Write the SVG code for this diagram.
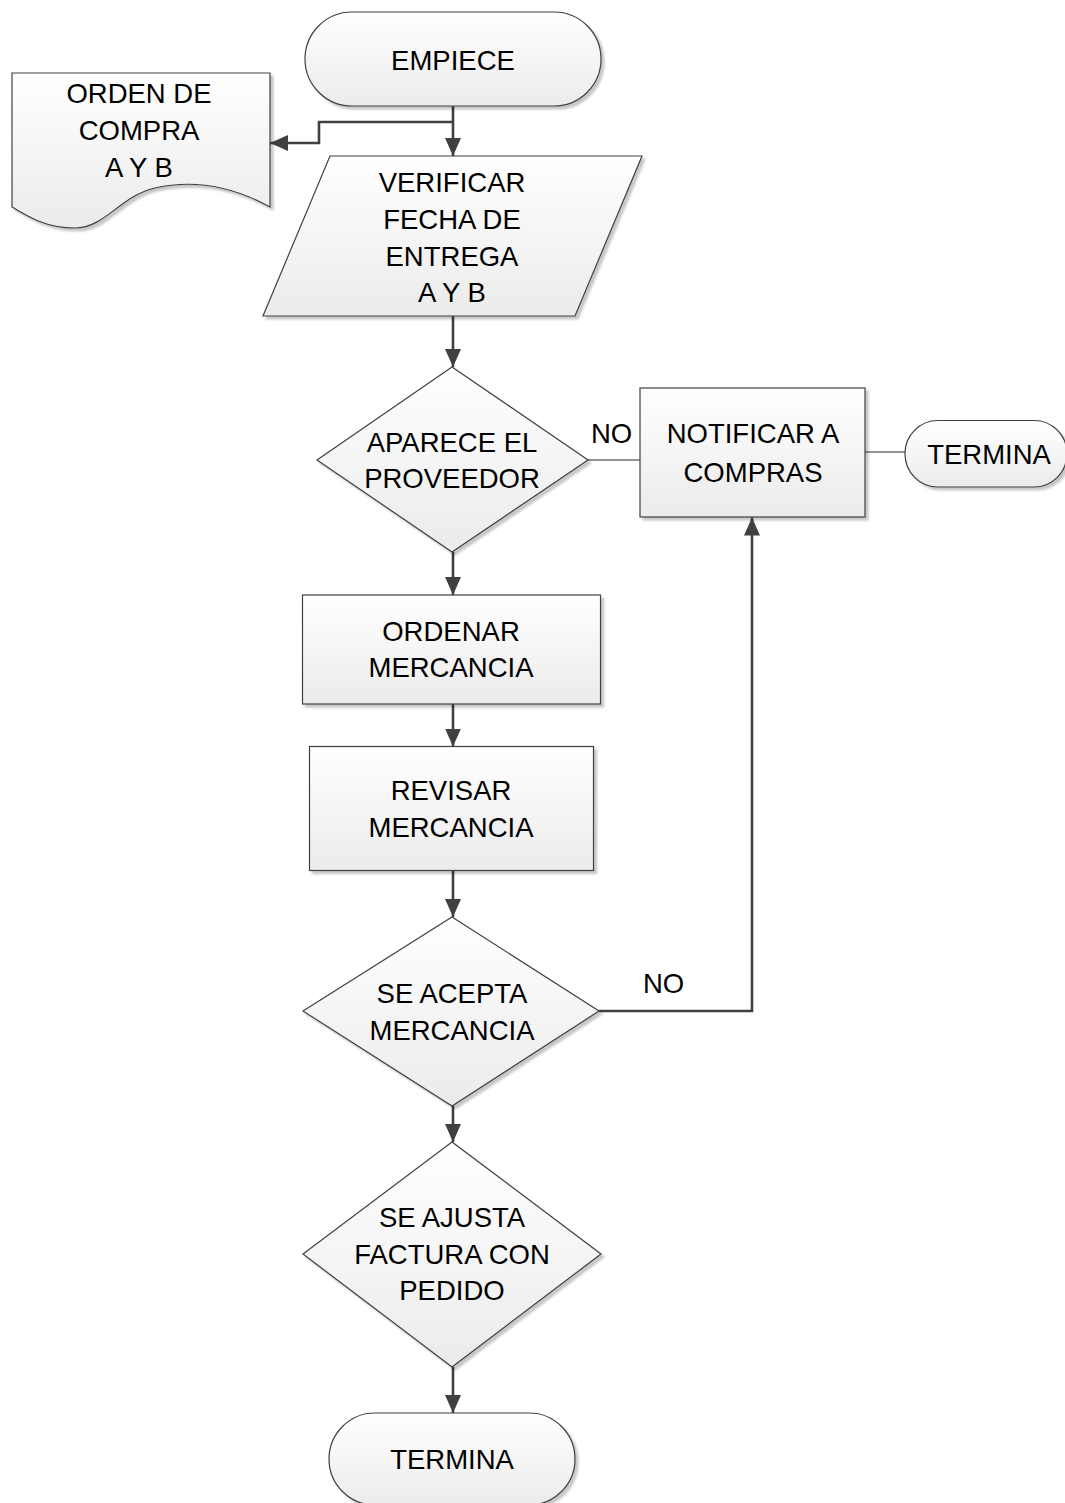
<svg xmlns="http://www.w3.org/2000/svg" width="1065" height="1503" viewBox="0 0 1065 1503">
<defs>
<linearGradient id="g" x1="0" y1="0" x2="0" y2="1">
<stop offset="0" stop-color="#ffffff"/>
<stop offset="1" stop-color="#ebebeb"/>
</linearGradient>
<filter id="sh" x="-10%" y="-10%" width="125%" height="125%">
<feDropShadow dx="3" dy="3" stdDeviation="1.2" flood-color="#000" flood-opacity="0.22"/>
</filter>
<marker id="ah" viewBox="0 0 18 16" markerWidth="18" markerHeight="16" refX="18" refY="8" orient="auto" markerUnits="userSpaceOnUse">
<path d="M0,0 L18,8 L0,16 Z" fill="#404040"/>
</marker>
<style>
.s{fill:url(#g);stroke:#404040;stroke-width:1.2;filter:url(#sh)}
.t{font-family:"Liberation Sans",Arial,sans-serif;font-size:27.5px;fill:#000;text-anchor:middle}
.l{font-family:"Liberation Sans",Arial,sans-serif;font-size:27.5px;fill:#000}
.c{fill:none;stroke:#404040;stroke-width:2.6}
.a{marker-end:url(#ah)}
.th{fill:none;stroke:#707070;stroke-width:1.6}
</style>
</defs>
<rect width="1065" height="1503" fill="#ffffff"/>

<g id="connectors">
<path class="c a" d="M453,106 V156"/>
<path class="c a" d="M453,122 H319 V143 H270"/>
<path class="c a" d="M453,316 V367"/>
<path class="th" d="M588,460 H640"/>
<path class="c a" d="M453,552 V595"/>
<path class="c a" d="M453,704 V746.5"/>
<path class="c a" d="M453,871 V917"/>
<path class="c a" d="M599,1011 H752 V517.5"/>
<path class="c a" d="M453,1106 V1142"/>
<path class="c a" d="M453,1367 V1413"/>
<path class="th" d="M865,452 H905"/>
</g>

<g id="n-empiece">
<rect class="s" x="305" y="12" width="296" height="94" rx="47"/>
<text class="t" x="453" y="70">EMPIECE</text>
</g>

<g id="n-orden">
<path class="s" d="M12,73 H270 V207 C230,185 190,180 155,188 C120,196 105,228 75,228 C45,228 25,215 12,207 Z"/>
<text class="t" x="139" y="103">ORDEN DE</text>
<text class="t" x="139" y="140">COMPRA</text>
<text class="t" x="139" y="177">A Y B</text>
</g>

<g id="n-verificar">
<path class="s" d="M330,156 H642 L575,316 H263 Z"/>
<text class="t" x="452" y="192">VERIFICAR</text>
<text class="t" x="452" y="229">FECHA DE</text>
<text class="t" x="452" y="266">ENTREGA</text>
<text class="t" x="452" y="302">A Y B</text>
</g>

<g id="n-aparece">
<path class="s" d="M452,367 L588,460 L452,552 L317,460 Z"/>
<text class="t" x="452" y="452">APARECE EL</text>
<text class="t" x="452" y="488">PROVEEDOR</text>
</g>

<g id="n-notificar">
<rect class="s" x="640" y="388" width="225" height="129"/>
<text class="t" x="753" y="443">NOTIFICAR A</text>
<text class="t" x="753" y="482">COMPRAS</text>
</g>

<g id="n-termina1">
<rect class="s" x="905" y="420.5" width="162" height="66.5" rx="33"/>
<text class="t" x="989" y="464">TERMINA</text>
</g>

<g id="n-ordenar">
<rect class="s" x="302.5" y="595" width="298" height="109"/>
<text class="t" x="451" y="641">ORDENAR</text>
<text class="t" x="451" y="677">MERCANCIA</text>
</g>

<g id="n-revisar">
<rect class="s" x="309.5" y="746.5" width="284" height="124"/>
<text class="t" x="451" y="800">REVISAR</text>
<text class="t" x="451" y="837">MERCANCIA</text>
</g>

<g id="n-acepta">
<path class="s" d="M452,917 L599,1011 L452,1106 L303,1011 Z"/>
<text class="t" x="452" y="1003">SE ACEPTA</text>
<text class="t" x="452" y="1040">MERCANCIA</text>
</g>

<g id="n-ajusta">
<path class="s" d="M452,1142 L601,1254 L452,1367 L303,1254 Z"/>
<text class="t" x="452" y="1227">SE AJUSTA</text>
<text class="t" x="452" y="1264">FACTURA CON</text>
<text class="t" x="452" y="1300">PEDIDO</text>
</g>

<g id="n-termina2">
<rect class="s" x="329" y="1413" width="246" height="92" rx="46"/>
<text class="t" x="452" y="1469">TERMINA</text>
</g>

<g id="labels">
<text class="l" x="591" y="443">NO</text>
<text class="l" x="643" y="993">NO</text>
</g>
</svg>
